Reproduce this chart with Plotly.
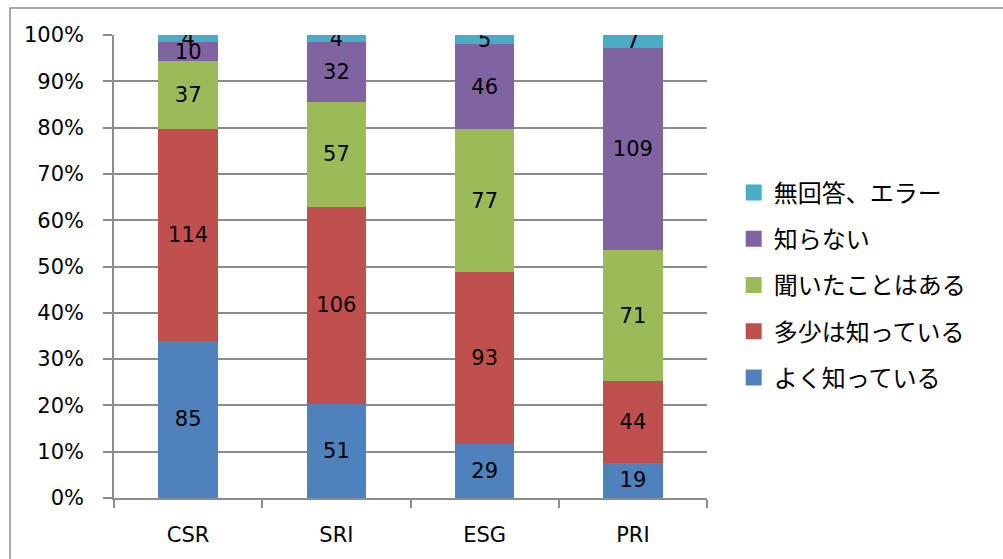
import plotly.graph_objects as go

categories = ["CSR", "SRI", "ESG", "PRI"]

series_names = ["よく知っている", "多少は知っている", "聞いたことはある", "知らない", "無回答、エラー"]
well_known = [85, 51, 29, 19]
somewhat_known = [114, 106, 93, 44]
heard_of = [37, 57, 77, 71]
unknown = [10, 32, 46, 109]
no_answer = [4, 4, 5, 7]

series_values = [well_known, somewhat_known, heard_of, unknown, no_answer]
colors = ["#4F81BD", "#C0504D", "#9BBB59", "#8064A2", "#4BACC6"]

num_font = "DejaVu Sans, Verdana, sans-serif"
jp_font = "Noto Sans CJK JP, sans-serif"
grid = "#8C8C8C"

fig = go.Figure()

# stacked bars normalised to 100%, labelled with the raw counts
for name, vals, col in zip(series_names, series_values, colors):
    fig.add_trace(go.Bar(
        x=categories, y=vals, name=name,
        marker=dict(color=col, line=dict(width=0)),
        text=[str(v) for v in vals],
        textposition="inside", insidetextanchor="middle", textangle=0,
        textfont=dict(family=num_font, size=21, color="black"),
        constraintext="none",
        showlegend=False, hoverinfo="skip",
    ))

# legend entries with square swatches, top series listed first
for i in reversed(range(len(series_names))):
    fig.add_trace(go.Scatter(
        x=[None], y=[None], mode="markers", name=series_names[i],
        marker=dict(symbol="square", size=16, color=colors[i]),
        legendgroup=f"g{i}", showlegend=True,
    ))

fig.update_layout(
    width=1003, height=559,
    margin=dict(l=114, r=296, t=35, b=61),
    paper_bgcolor="white", plot_bgcolor="white",
    barmode="stack", barnorm="percent", bargap=0.6,
    uniformtext=dict(minsize=21, mode="show"),
    showlegend=True,
    legend=dict(
        x=1.045, xanchor="left", y=0.46, yanchor="middle",
        traceorder="grouped", tracegroupgap=12,
        font=dict(family=jp_font, size=24, color="black"),
        bgcolor="rgba(0,0,0,0)",
    ),
    xaxis=dict(
        type="category", showgrid=False,
        showline=True, linecolor=grid, linewidth=1.5,
        ticks="outside", tickson="boundaries", ticklen=8, tickcolor=grid, tickwidth=1.5,
        ticklabelstandoff=17,
        tickfont=dict(family=num_font, size=21, color="black"),
        fixedrange=True,
    ),
    yaxis=dict(
        range=[0, 100], dtick=10, ticksuffix="%",
        showgrid=True, gridcolor=grid, gridwidth=1.5,
        showline=True, linecolor=grid, linewidth=1.5,
        ticks="outside", ticklen=9, tickcolor=grid, tickwidth=1.5,
        ticklabelstandoff=15,
        tickfont=dict(family=num_font, size=21, color="black"),
        zeroline=False, fixedrange=True,
    ),
    shapes=[dict(
        type="rect", xref="paper", yref="paper",
        x0=-0.1754, x1=2.0, y0=-1.0, y1=1.0583,
        line=dict(color="#8C8C8C", width=1.5), layer="below",
    )],
)

fig.write_html("out.html")
